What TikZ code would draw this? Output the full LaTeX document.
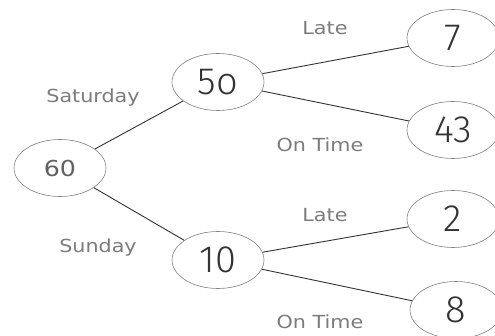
\documentclass[tikz,border=0pt]{standalone}
\usepackage{fontspec}
\setmainfont{DejaVu Sans}
\newfontfamily\labfont[FakeStretch=1.15]{DejaVu Sans}
\newfontfamily\handfont{Fira Sans Light}
\usetikzlibrary{shapes.geometric}
\definecolor{lbl}{HTML}{7C7C7C}
\definecolor{ink}{HTML}{333333}
\tikzset{
  count/.style={ellipse, draw=black!50, line width=0.6pt, minimum width=92pt, minimum height=57pt, inner sep=0pt},
  hand/.style={font=\handfont\fontsize{38}{38}\selectfont, text=ink},
  lab/.style={font=\labfont\fontsize{18}{18}\selectfont, text=lbl},
  branch/.style={draw=ink, line width=0.9pt}
}
\begin{document}
\begin{tikzpicture}[x=1pt,y=-1pt]
\useasboundingbox (0,0) rectangle (495,336);
\fill[white] (0,0) rectangle (495,336);
\node[count, font=\labfont\fontsize{22}{22}\selectfont, text=black!62] (n60) at (60,168) {60};
\node[count, hand] (n50) at (218,82) {5\kern1pt o};
\node[count, hand] (n10) at (218,260) {10};
\node[count, hand] (n7) at (453,38) {7};
\node[count, hand] (n43) at (453,130) {43};
\node[count, hand] (n2) at (453,219) {2};
\node[count, hand] (n8) at (456,310) {8};
\draw[branch] (n60) -- (n50);
\draw[branch] (n60) -- (n10);
\draw[branch] (n50) -- (n7);
\draw[branch] (n50) -- (n43);
\draw[branch] (n10) -- (n2);
\draw[branch] (n10) -- (n8);
\node[lab] (sat) at (93,98) {Saturday};
\node[lab] (sun) at (98,248) {Sunday};
\node[lab] (late1) at (325,28) {Late};
\node[lab] (on1) at (320,145) {On Time};
\node[lab] (late2) at (325,215) {Late};
\node[lab] (on2) at (320,322) {On Time};
\end{tikzpicture}
\end{document}
